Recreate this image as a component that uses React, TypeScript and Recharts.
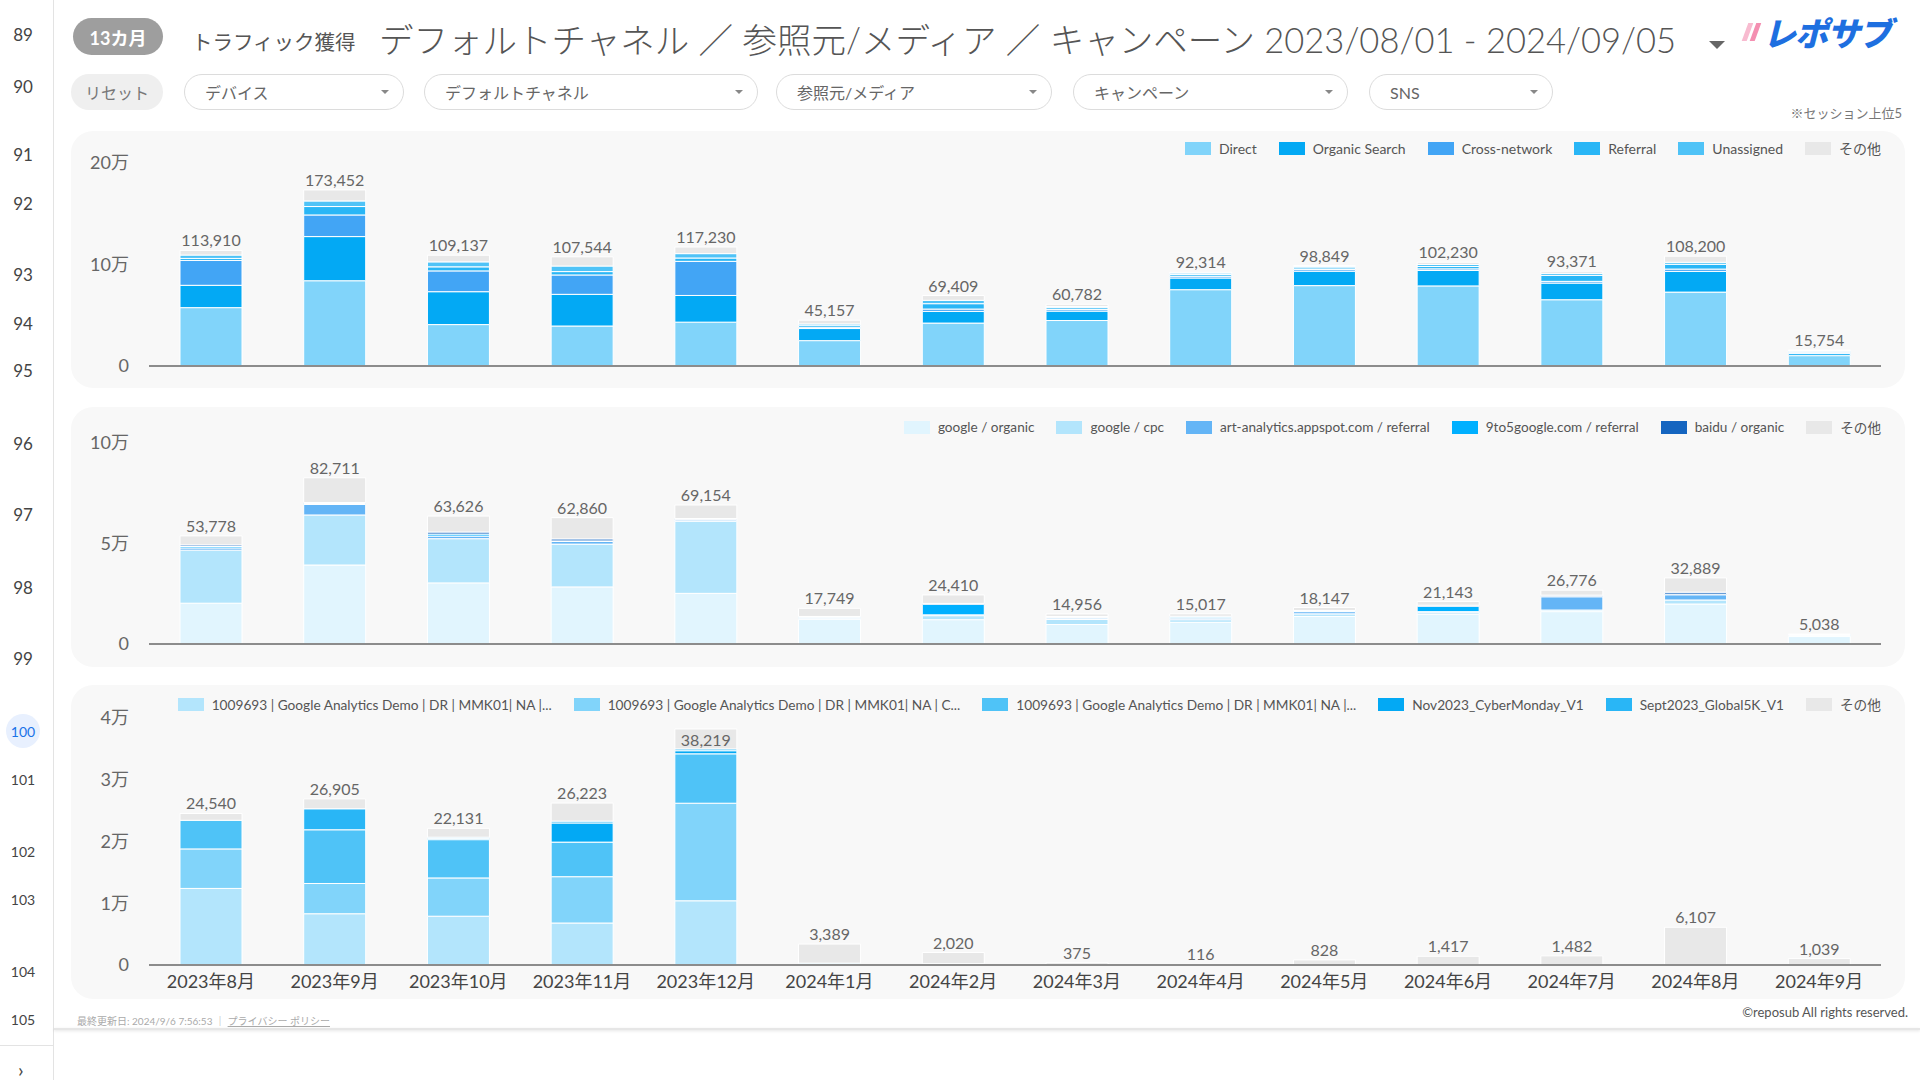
import React from 'react';
import { BarChart, Bar, XAxis, YAxis, Legend, LabelList } from 'recharts';

const FONT = "Lato, 'Noto Sans CJK JP', sans-serif";

const months = [
  '2023年8月', '2023年9月', '2023年10月', '2023年11月', '2023年12月', '2024年1月', '2024年2月',
  '2024年3月', '2024年4月', '2024年5月', '2024年6月', '2024年7月', '2024年8月', '2024年9月',
];

// デフォルトチャネル
const direct = [57500, 84000, 40800, 39400, 43200, 25000, 42300, 44800, 75200, 79200, 78900, 65300, 72800, 10200];
const organicSearch = [22000, 43500, 32400, 31200, 26300, 11900, 11500, 9300, 11500, 14200, 15200, 16400, 20400, 2000];
const crossNetwork = [24500, 21300, 20500, 19100, 33600, 1300, 2300, 1700, 1700, 1600, 1600, 1700, 2300, 1300];
const referral = [2000, 8300, 4000, 3300, 3300, 2000, 5300, 1700, 1700, 1700, 2300, 5900, 4700, 1000];
const unassigned = [3300, 5500, 4900, 5500, 4300, 1300, 3300, 1000, 1500, 1500, 2000, 2000, 2000, 700];
const channelOther = [4610, 10852, 6537, 9044, 6530, 3657, 4709, 2282, 714, 649, 2230, 2071, 6000, 554];
const channelTotals = [113910, 173452, 109137, 107544, 117230, 45157, 69409, 60782, 92314, 98849, 102230, 93371, 108200, 15754];

// 参照元/メディア
const googleOrganic = [20300, 39300, 30400, 28400, 25200, 12300, 12100, 9700, 10800, 13700, 14800, 16100, 19900, 3700];
const googleCpc = [26400, 24900, 22000, 21300, 35800, 500, 2000, 2500, 1300, 1300, 800, 800, 2000, 500];
const artAnalytics = [1100, 5200, 1300, 1300, 700, 500, 400, 700, 800, 1100, 500, 6600, 2600, 400];
const nineToFive = [700, 500, 1000, 300, 200, 200, 5300, 300, 500, 300, 2700, 300, 300, 100];
const baiduOrganic = [800, 500, 1000, 1000, 500, 200, 400, 500, 400, 300, 500, 500, 1000, 100];
const sourceOther = [4478, 12311, 7926, 10560, 6754, 4049, 4210, 1256, 1217, 1447, 1843, 2476, 7089, 238];
const sourceTotals = [53778, 82711, 63626, 62860, 69154, 17749, 24410, 14956, 15017, 18147, 21143, 26776, 32889, 5038];

// キャンペーン
const campaignA = [12400, 8300, 7900, 6800, 10400, 100, 100, 0, 0, 0, 0, 0, 0, 0];
const campaignB = [6400, 4900, 6200, 7500, 15800, 0, 0, 0, 0, 0, 0, 0, 0, 0];
const campaignC = [4640, 8700, 6200, 5600, 8000, 200, 100, 100, 50, 0, 0, 0, 0, 0];
const cyberMonday = [0, 0, 200, 3100, 500, 0, 0, 0, 0, 0, 0, 0, 0, 0];
const global5k = [0, 3400, 200, 300, 300, 0, 0, 0, 0, 0, 0, 0, 0, 0];
const campaignOther = [1100, 1605, 1431, 2923, 3219, 3089, 1820, 275, 66, 828, 1417, 1482, 6107, 1039];
const campaignTotals = [24540, 26905, 22131, 26223, 38219, 3389, 2020, 375, 116, 828, 1417, 1482, 6107, 1039];

const channelTicks = [0, 100000, 200000];
const sourceTicks = [0, 50000, 100000];
const campaignTicks = [0, 10000, 20000, 30000, 40000];

type Series = { key: string; name: string; color: string; values: number[] };

const channelSeries: Series[] = [
  { key: 'direct', name: 'Direct', color: '#81D4FA', values: direct },
  { key: 'organic', name: 'Organic Search', color: '#03A9F4', values: organicSearch },
  { key: 'cross', name: 'Cross-network', color: '#42A5F5', values: crossNetwork },
  { key: 'referral', name: 'Referral', color: '#29B6F6', values: referral },
  { key: 'unassigned', name: 'Unassigned', color: '#4FC3F7', values: unassigned },
  { key: 'other', name: 'その他', color: '#E8E8E8', values: channelOther },
];

const sourceSeries: Series[] = [
  { key: 'gorganic', name: 'google / organic', color: '#E1F5FE', values: googleOrganic },
  { key: 'gcpc', name: 'google / cpc', color: '#B3E5FC', values: googleCpc },
  { key: 'art', name: 'art-analytics.appspot.com / referral', color: '#64B5F6', values: artAnalytics },
  { key: 'ninetofive', name: '9to5google.com / referral', color: '#00B0FF', values: nineToFive },
  { key: 'baidu', name: 'baidu / organic', color: '#1565C0', values: baiduOrganic },
  { key: 'other', name: 'その他', color: '#E8E8E8', values: sourceOther },
];

const campaignSeries: Series[] = [
  { key: 'ca', name: '1009693 | Google Analytics Demo | DR | MMK01| NA |...', color: '#B3E5FC', values: campaignA },
  { key: 'cb', name: '1009693 | Google Analytics Demo | DR | MMK01| NA | C...', color: '#81D4FA', values: campaignB },
  { key: 'cc', name: '1009693 | Google Analytics Demo | DR | MMK01| NA |...', color: '#4FC3F7', values: campaignC },
  { key: 'cyber', name: 'Nov2023_CyberMonday_V1', color: '#03A9F4', values: cyberMonday },
  { key: 'g5k', name: 'Sept2023_Global5K_V1', color: '#29B6F6', values: global5k },
  { key: 'other', name: 'その他', color: '#E8E8E8', values: campaignOther },
];

function buildRows(series: Series[], totals: number[]) {
  return months.map((m, i) => {
    const row: any = { month: m, total: totals[i] };
    series.forEach(s => { row[s.key] = s.values[i]; });
    return row;
  });
}

function LegendRow(props: any) {
  const order: string[] = props.order || [];
  const items = [...(props.payload || [])].sort(
    (a: any, b: any) => order.indexOf(a.dataKey) - order.indexOf(b.dataKey));
  return (
    <div style={{ display: 'flex', justifyContent: 'flex-end', alignItems: 'center', gap: 22, fontSize: props.fontSize, color: '#555', fontFamily: FONT, whiteSpace: 'nowrap', height: 20 }}>
      {items.map((p: any, i: number) => (
        <div key={i} style={{ display: 'flex', alignItems: 'center' }}>
          <span style={{ display: 'inline-block', width: 26, height: 13, background: p.color, marginRight: 8 }} />
          {p.value}
        </div>
      ))}
    </div>
  );
}

const tickLabel = (v: number) => (v === 0 ? '0' : `${v / 10000}万`);

// total above the stack; drawn inside the top of the bar when there is no room under the legend
function renderTotal(p: any, limit: number) {
  const { x, y, width, value } = p;
  const ty = y < limit ? y + 17 : y - 4;
  return (
    <text x={x + width / 2} y={ty} textAnchor="middle" fontSize={16} fill="#666" fontFamily={FONT}>
      {Number(value).toLocaleString('en-US')}
    </text>
  );
}

function StackedPanel(props: {
  top: number; height: number; marginTop: number; marginBottom: number; legendFont: number;
  series: Series[]; totals: number[]; ticks: number[]; showMonths: boolean; legendTop: number;
}) {
  const { top, height, marginTop, marginBottom, series, totals, ticks, showMonths, legendTop, legendFont } = props;
  const rows = buildRows(series, totals);
  const limit = legendTop + 36;
  return (
    <div style={{ position: 'absolute', left: 71, top, width: 1834, height, background: '#F8F8F8', borderRadius: 22 }}>
      <BarChart width={1834} height={height} data={rows} barSize={62}
        margin={{ top: marginTop, right: 24, bottom: marginBottom, left: 0 }}>
        <XAxis dataKey="month" axisLine={{ stroke: '#8c8c8c', strokeWidth: 2 }} tickLine={false}
          tick={showMonths ? { fontSize: 18, fill: '#444', fontFamily: FONT } : false}
          height={showMonths ? 30 : 1} tickMargin={4} interval={0} />
        <YAxis width={78} domain={[0, ticks[ticks.length - 1]]} ticks={ticks} axisLine={false} tickLine={false}
          tickMargin={14} tickFormatter={tickLabel} tick={{ fontSize: 18, fill: '#666', fontFamily: FONT }} />
        <Legend layout="horizontal" verticalAlign="middle" align="center"
          content={<LegendRow order={series.map(s => s.key)} fontSize={legendFont} />}
          wrapperStyle={{ top: legendTop, left: 0, width: 1810, height: 20 }} />
        {series.map((s, i) => (
          <Bar key={s.key} dataKey={s.key} name={s.name} stackId="a" fill={s.color}
            stroke="#ffffff" strokeWidth={1} isAnimationActive={false}>
            {i === series.length - 1 && (
              <LabelList dataKey="total" content={(p: any) => renderTotal(p, limit)} />
            )}
          </Bar>
        ))}
      </BarChart>
    </div>
  );
}

const sideRows: [string, number][] = [
  ['89', 34], ['90', 86], ['91', 154], ['92', 203], ['93', 274], ['94', 323], ['95', 370],
  ['96', 443], ['97', 514], ['98', 587], ['99', 658], ['100', 731], ['101', 779], ['102', 851],
  ['103', 899], ['104', 971], ['105', 1019],
];

const filters: [string, number, number][] = [
  ['デバイス', 184, 220], ['デフォルトチャネル', 424, 334], ['参照元/メディア', 776, 276],
  ['キャンペーン', 1073, 275], ['SNS', 1369, 184],
];

function Caret({ size = 5, color = '#777' }: { size?: number; color?: string }) {
  return (
    <span style={{ display: 'inline-block', width: 0, height: 0, borderLeft: `${size}px solid transparent`, borderRight: `${size}px solid transparent`, borderTop: `${size}px solid ${color}` }} />
  );
}

export default function App() {
  return (
    <div style={{ position: 'absolute', left: 0, top: 0, width: 1920, height: 1080, background: '#fff', overflow: 'hidden', fontFamily: FONT, color: '#555' }}>
      {/* sidebar */}
      <div style={{ position: 'absolute', left: 0, top: 0, width: 53, height: 1080, borderRight: '1px solid #e3e3e3' }} />
      {sideRows.map(([label, y]) => (
        <div key={label} style={{
          position: 'absolute', left: 6, top: y - 17, width: 34, height: 34, borderRadius: 17,
          display: 'flex', alignItems: 'center', justifyContent: 'center',
          fontSize: label.length > 2 ? 14 : 17, color: label === '100' ? '#1A73E8' : '#444',
          background: label === '100' ? '#E8F0FE' : 'transparent',
        }}>{label}</div>
      ))}
      <div style={{ position: 'absolute', left: 0, top: 1045, width: 53, height: 1, background: '#e3e3e3' }} />
      <div style={{ position: 'absolute', left: 18, top: 1060, fontSize: 20, lineHeight: '18px', color: '#444' }}>›</div>

      {/* header */}
      <div style={{ position: 'absolute', left: 73, top: 18, width: 90, height: 37, borderRadius: 19, background: '#9E9E9E', color: '#fff', fontSize: 18, fontWeight: 700, display: 'flex', alignItems: 'center', justifyContent: 'center' }}>13カ月</div>
      <div style={{ position: 'absolute', left: 192, top: 26, fontSize: 20.5, color: '#555', whiteSpace: 'nowrap' }}>トラフィック獲得</div>
      <div style={{ position: 'absolute', left: 379, top: 13, fontSize: 34.5, color: '#555', fontWeight: 300, whiteSpace: 'nowrap' }}>
        デフォルトチャネル ／ 参照元/メディア ／ キャンペーン 2023/08/01 - 2024/09/05
      </div>
      <div style={{ position: 'absolute', left: 1709, top: 33 }}><Caret size={8} color="#666" /></div>
      <div style={{ position: 'absolute', left: 1745, top: 14, display: 'flex', alignItems: 'center', height: 36 }}>
        <span style={{ display: 'inline-block', width: 5, height: 18, background: '#F8BBD0', transform: 'skewX(-20deg)', marginRight: 3 }} />
        <span style={{ display: 'inline-block', width: 5, height: 18, background: '#F48FB1', transform: 'skewX(-20deg)', marginRight: 5 }} />
        <span style={{ fontSize: 33, fontWeight: 900, fontStyle: 'italic', color: '#1E6FE0', letterSpacing: -1, fontFamily: "'Noto Sans CJK JP', sans-serif" }}>レポサブ</span>
      </div>

      {/* filters */}
      <div style={{ position: 'absolute', left: 71, top: 74, width: 92, height: 36, borderRadius: 18, background: '#EFEFEF', color: '#777', fontSize: 16, display: 'flex', alignItems: 'center', justifyContent: 'center' }}>リセット</div>
      {filters.map(([label, x, w]) => (
        <div key={label} style={{ position: 'absolute', left: x, top: 74, width: w, height: 36, boxSizing: 'border-box', border: '1px solid #dcdcdc', borderRadius: 18, background: '#fff', fontSize: 16, color: '#666', display: 'flex', alignItems: 'center', justifyContent: 'space-between', padding: '0 14px 0 20px' }}>
          <span>{label}</span>
          <Caret size={4} color="#888" />
        </div>
      ))}
      <div style={{ position: 'absolute', right: 18, top: 103, fontSize: 13, color: '#777' }}>※セッション上位5</div>

      <StackedPanel top={131} height={257} marginTop={32} marginBottom={21} series={channelSeries} legendFont={14}
        totals={channelTotals} ticks={channelTicks} showMonths={false} legendTop={7} />
      <StackedPanel top={407} height={260} marginTop={36} marginBottom={22} series={sourceSeries} legendFont={13.6}
        totals={sourceTotals} ticks={sourceTicks} showMonths={false} legendTop={10} />
      <StackedPanel top={685} height={314} marginTop={33} marginBottom={4} series={campaignSeries} legendFont={13.7}
        totals={campaignTotals} ticks={campaignTicks} showMonths={true} legendTop={9} />

      {/* footer */}
      <div style={{ position: 'absolute', left: 77, top: 1013, fontSize: 10, color: '#aaa', whiteSpace: 'nowrap' }}>
        最終更新日: 2024/9/6 7:56:53 ｜ <span style={{ textDecoration: 'underline' }}>プライバシー ポリシー</span>
      </div>
      <div style={{ position: 'absolute', right: 12, top: 1004, fontSize: 13, color: '#555' }}>©reposub All rights reserved.</div>
      <div style={{ position: 'absolute', left: 54, top: 1028, width: 1866, height: 2, background: '#e6e6e6', boxShadow: '0 1px 3px rgba(0,0,0,0.12)' }} />
    </div>
  );
}
